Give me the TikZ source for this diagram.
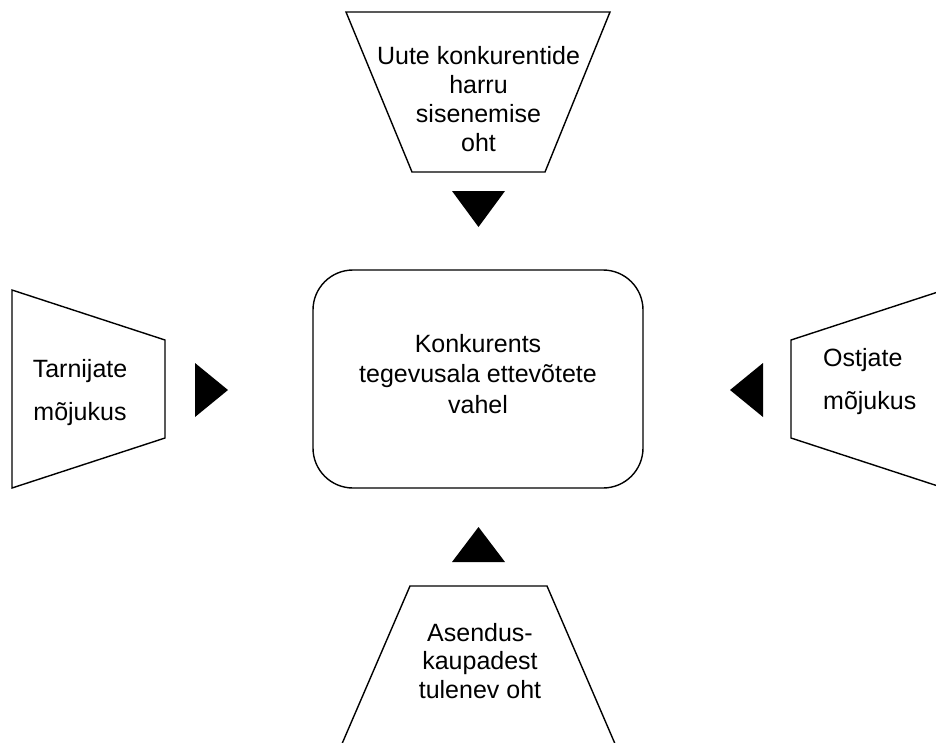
\documentclass[tikz,border=0pt]{standalone}
\usepackage{fontspec}
\setmainfont{Liberation Sans}
\begin{document}
\begin{tikzpicture}[x=1pt, y=-1pt,
  outline/.style={draw=black, line width=1.4pt, line join=miter},
  pointer/.style={fill=black, draw=none},
  label/.style={font=\fontsize{25}{29}\selectfont, align=center, inner sep=0pt},
  sidelabel/.style={font=\fontsize{25}{43}\selectfont, inner sep=0pt}]
  \useasboundingbox (0,0) rectangle (936,742);
  \clip (0,0) rectangle (936,742);

  % central rounded box
  \node[outline, rounded corners=40pt, minimum width=330pt, minimum height=218pt,
        inner sep=0pt] (core) at (478,379) {};
  \node[label, font=\fontsize{25}{30.5}\selectfont] (coretext) at (478,374)
    {Konkurents\\tegevusala ettevõtete\\vahel};

  % top: new entrants
  \draw[outline] (346,12) -- (610,12) -- (545,172) -- (412,172) -- cycle;
  \node[label] (toptext) at (478.5,99) {Uute konkurentide\\harru\\sisenemise\\oht};
  \fill[pointer] (452,191) -- (505,191) -- (478.5,227) -- cycle;

  % left: suppliers
  \draw[outline] (12,290) -- (165,340) -- (165,438) -- (12,488) -- cycle;
  \node[sidelabel, align=center] (lefttext) at (80,393) {Tarnijate\\mõjukus};
  \fill[pointer] (195,363) -- (228,390) -- (195,417) -- cycle;

  % right: buyers
  \draw[outline] (944,290) -- (791,340) -- (791,438) -- (944,488);
  \node[sidelabel, align=left, anchor=north west] (righttext) at (823,348)
    {Ostjate\\mõjukus};
  \fill[pointer] (763,363) -- (730,390) -- (763,417) -- cycle;

  % bottom: substitutes
  \draw[outline] (335,760) -- (410,586) -- (547,586) -- (622,760);
  \node[label, font=\fontsize{25}{28.5}\selectfont] (bottomtext) at (480,661)
    {Asendus-\\kaupadest\\tulenev oht};
  \fill[pointer] (452,562) -- (505,562) -- (478.5,527) -- cycle;
\end{tikzpicture}
\end{document}
